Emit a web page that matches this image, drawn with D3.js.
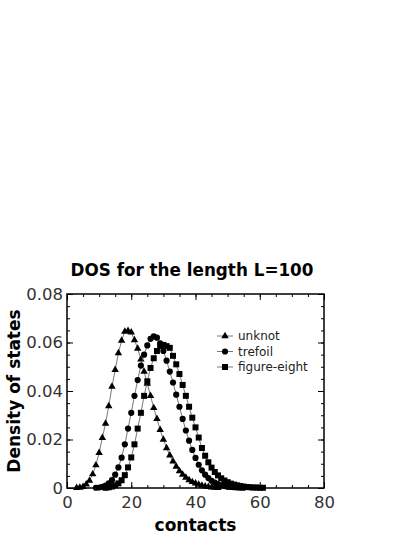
<!DOCTYPE html>
<html>
<head>
<meta charset="utf-8">
<script src="https://cdn.jsdelivr.net/npm/d3@7"></script>
<style>
body { margin: 0; background: #fff; }
text { font-family: "DejaVu Sans", sans-serif; }
</style>
</head>
<body>
<div id="vis"></div>
<script>
// contacts and density values
var unknotX = d3.range(3, 48);
var unknotY = [0.0001, 0.0002, 0.0005, 0.0015, 0.003, 0.0057, 0.0094, 0.0145, 0.0207, 0.0266,
    0.0338, 0.0418, 0.0487, 0.0556, 0.0608, 0.0645, 0.0648, 0.0642, 0.061, 0.0575,
    0.053, 0.048, 0.043, 0.038, 0.033, 0.0285, 0.024, 0.020, 0.0165, 0.0135,
    0.011, 0.0088, 0.007, 0.0055, 0.0043, 0.0033, 0.0025, 0.0019, 0.0014, 0.001,
    0.0007, 0.0005, 0.0003, 0.0002, 0.0001];

var trefoilX = d3.range(9, 56);
var trefoilY = [0.0001, 0.0002, 0.0005, 0.001, 0.0019, 0.0033, 0.0055, 0.0085, 0.0125, 0.018,
    0.0245, 0.031, 0.038, 0.0445, 0.0505, 0.055, 0.0588, 0.0615, 0.0625, 0.062,
    0.0597, 0.0565, 0.0525, 0.048, 0.0435, 0.0385, 0.0335, 0.0285, 0.0237, 0.0195,
    0.0157, 0.0124, 0.0096, 0.0073, 0.0055, 0.0041, 0.003, 0.0022, 0.0016, 0.0011,
    0.0008, 0.0005, 0.0004, 0.0003, 0.0002, 0.0001, 0.0001];

var eightX = d3.range(12, 62);
var eightY = [0.0001, 0.0003, 0.0006, 0.0011, 0.0019, 0.0032, 0.0053, 0.0085, 0.0126, 0.018,
    0.0245, 0.031, 0.038, 0.044, 0.0495, 0.0535, 0.0565, 0.0585, 0.059, 0.0585,
    0.0578, 0.0545, 0.051, 0.047, 0.0425, 0.038, 0.0335, 0.029, 0.025, 0.0208,
    0.0165, 0.0133, 0.0106, 0.0084, 0.0066, 0.0052, 0.004, 0.0031, 0.0024, 0.0018,
    0.0014, 0.0011, 0.0008, 0.0006, 0.0004, 0.0003, 0.0002, 0.0002, 0.0001, 0.0001];

var seriesNames = ["unknot", "trefoil", "figure-eight"];
var xTicks = [0, 20, 40, 60, 80];
var yTicks = [0, 0.02, 0.04, 0.06, 0.08];

var width = 415, height = 537;
var margin = { top: 294, left: 67, right: 91, bottom: 49 };
var w = width - margin.left - margin.right;
var h = height - margin.top - margin.bottom;

var svg = d3.select("#vis")
    .append("svg")
    .attr("width", width)
    .attr("height", height);

var g = svg.append("g")
    .attr("transform", "translate(" + margin.left + "," + margin.top + ")");

var xscale = d3.scaleLinear().domain([0, 80]).range([0, w]);
var yscale = d3.scaleLinear().domain([0, 0.08]).range([h, 0]);

var yfmt = function(d) { return d === 0 ? "0" : d3.format(".2f")(d); };

// inward ticks on all four sides
function ticks(axis, values, size) {
    return axis.tickValues(values).tickSizeInner(-size).tickSizeOuter(0);
}
var minorX = d3.range(0, 81, 5);
var minorY = d3.range(0, 0.0801, 0.005);

g.append("g").attr("class", "axis")
    .attr("transform", "translate(0," + h + ")")
    .call(ticks(d3.axisBottom(xscale), minorX, 3).tickFormat(""));
g.append("g").attr("class", "axis")
    .attr("transform", "translate(0," + h + ")")
    .call(ticks(d3.axisBottom(xscale), xTicks, 6).tickFormat(d3.format("d")).tickPadding(8));
g.append("g").attr("class", "axis")
    .call(ticks(d3.axisTop(xscale), minorX, 3).tickFormat(""));
g.append("g").attr("class", "axis")
    .call(ticks(d3.axisTop(xscale), xTicks, 6).tickFormat(""));

g.append("g").attr("class", "axis")
    .call(ticks(d3.axisLeft(yscale), minorY, 3).tickFormat(""));
g.append("g").attr("class", "axis")
    .call(ticks(d3.axisLeft(yscale), yTicks, 6).tickFormat(yfmt).tickPadding(4));
g.append("g").attr("class", "axis")
    .attr("transform", "translate(" + w + ",0)")
    .call(ticks(d3.axisRight(yscale), minorY, 3).tickFormat(""));
g.append("g").attr("class", "axis")
    .attr("transform", "translate(" + w + ",0)")
    .call(ticks(d3.axisRight(yscale), yTicks, 6).tickFormat(""));

g.selectAll(".axis .domain").remove();
g.selectAll(".axis line").attr("stroke", "#000").attr("stroke-width", 1);
g.selectAll(".axis text")
    .attr("fill", "#333")
    .style("font-family", "DejaVu Sans, sans-serif")
    .style("font-size", "16.5px");

g.append("rect")
    .attr("width", w)
    .attr("height", h)
    .attr("fill", "none")
    .attr("stroke", "#000")
    .attr("stroke-width", 1.5);

var series = [
    { name: seriesNames[0], xs: unknotX, ys: unknotY, sym: d3.symbolTriangle, size: 24 },
    { name: seriesNames[1], xs: trefoilX, ys: trefoilY, sym: d3.symbolCircle, size: 30 },
    { name: seriesNames[2], xs: eightX, ys: eightY, sym: d3.symbolSquare, size: 36 }
];

var line = d3.line()
    .x(function(d) { return xscale(d[0]); })
    .y(function(d) { return yscale(d[1]); });

series.forEach(function(s) {
    var pts = s.xs.map(function(x, i) { return [x, s.ys[i]]; });
    g.append("path")
        .datum(pts)
        .attr("fill", "none")
        .attr("stroke", "#555")
        .attr("stroke-width", 0.8)
        .attr("d", line);
    g.selectAll(null)
        .data(pts)
        .enter()
        .append("path")
        .attr("transform", function(d) {
            return "translate(" + xscale(d[0]) + "," + yscale(d[1]) + ")";
        })
        .attr("d", d3.symbol().type(s.sym).size(s.size))
        .attr("fill", "#000");
});

// legend
var legend = svg.append("g").attr("transform", "translate(217,336)");
series.forEach(function(s, i) {
    var row = legend.append("g").attr("transform", "translate(0," + (i * 15.5) + ")");
    row.append("line")
        .attr("x1", 0).attr("x2", 16)
        .attr("stroke", "#555").attr("stroke-width", 0.8);
    row.append("path")
        .attr("transform", "translate(8,0)")
        .attr("d", d3.symbol().type(s.sym).size(s.size))
        .attr("fill", "#000");
    row.append("text")
        .attr("x", 21)
        .attr("y", 4)
        .style("font-size", "12px")
        .attr("fill", "#222")
        .text(s.name);
});

svg.append("text")
    .attr("x", 192)
    .attr("y", 276)
    .style("text-anchor", "middle")
    .style("font-size", "16.8px")
    .style("font-weight", "bold")
    .text("DOS for the length L=100");

svg.append("text")
    .attr("x", margin.left + w / 2)
    .attr("y", 531)
    .style("text-anchor", "middle")
    .style("font-size", "17px")
    .style("font-weight", "bold")
    .text("contacts");

svg.append("text")
    .attr("transform", "translate(20," + (margin.top + h / 2) + ") rotate(-90)")
    .style("text-anchor", "middle")
    .style("font-size", "17px")
    .style("font-weight", "bold")
    .text("Density of states");
</script>
</body>
</html>
